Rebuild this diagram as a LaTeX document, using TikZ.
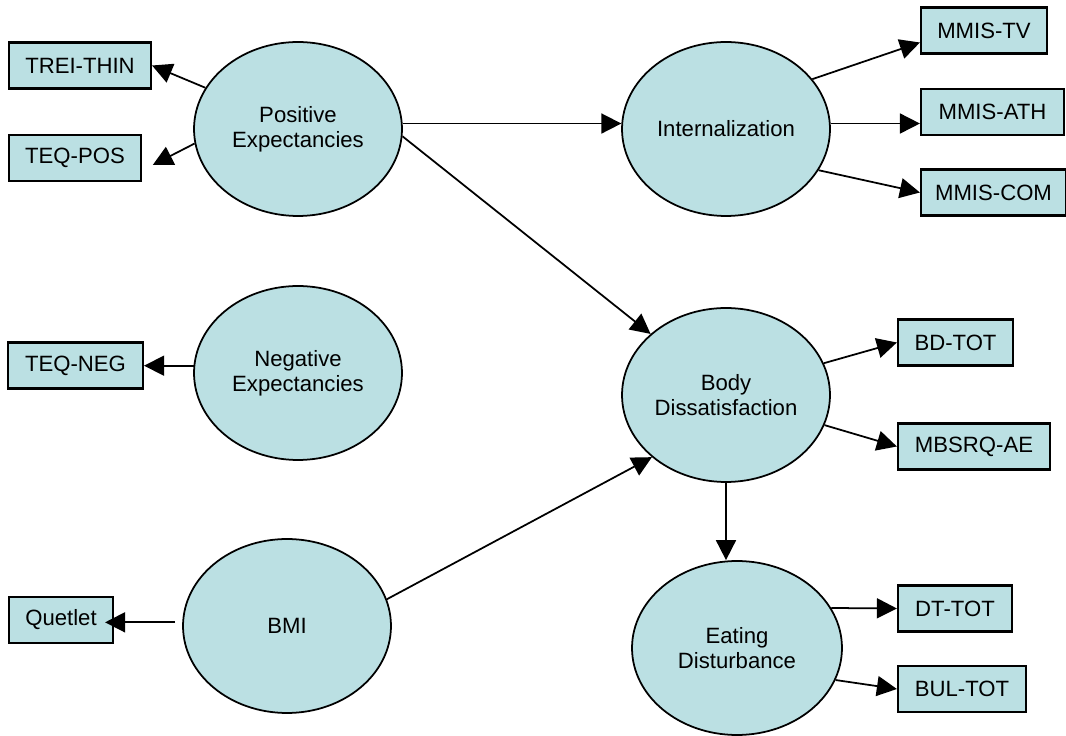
\documentclass[tikz,border=0pt]{standalone}
\usepackage{fontspec}
\setmainfont{Liberation Sans}
\usetikzlibrary{arrows.meta, shapes.geometric, positioning}

\definecolor{lightteal}{RGB}{187,224,227}

\tikzset{
	latent/.style={draw, ellipse, fill=lightteal, line width=1pt, minimum width=4.16cm, minimum height=3.48cm, align=center, inner sep=0pt},
	indicator/.style={draw, rectangle, fill=lightteal, line width=1.25pt, minimum height=0.92cm, inner sep=0pt},
	regpath/.style={-{Triangle[length=0.4cm, width=0.4cm]}, line width=1pt},
}

\begin{document}
\begin{tikzpicture}[x=0.02cm, y=-0.02cm, font=\fontsize{12.6pt}{14.2pt}\selectfont]
		\useasboundingbox (0,0) rectangle (1066,736);

		% Latent variables
		\begin{scope}
			\node (pe) at (298,129) [latent] {Positive\\Expectancies};
			\node (ne) at (298,373) [latent] {Negative\\Expectancies};
			\node (bmi) at (287,626) [latent] {BMI};
			\node (int) at (726,129) [latent] {Internalization};
			\node (bd) at (726,395) [latent] {Body\\Dissatisfaction};
			\node (ed) at (737,648) [latent, minimum width=4.2cm] {Eating\\Disturbance};
		\end{scope}

		% Indicators
		\begin{scope}
			\node (trei) at (80,65.5) [indicator, minimum width=2.84cm] {TREI-THIN};
			\node (teqpos) at (75,158) [indicator, minimum width=2.64cm] {TEQ-POS};
			\node (teqneg) at (75.5,365.5) [indicator, minimum width=2.7cm] {TEQ-NEG};
			\node (quetlet) at (61,620) [indicator, minimum width=2.08cm] {Quetlet};

			\node (mmistv) at (984,30.5) [indicator, minimum width=2.52cm] {MMIS-TV};
			\node (mmisath) at (992.5,112) [indicator, minimum width=2.86cm] {MMIS-ATH};
			\node (mmiscom) at (993.5,192.5) [indicator, minimum width=2.9cm] {MMIS-COM};

			\node (bdtot) at (955.5,342.5) [indicator, minimum width=2.3cm] {BD-TOT};
			\node (mbsrq) at (974,446.5) [indicator, minimum width=3.04cm] {MBSRQ-AE};

			\node (dttot) at (955,608.5) [indicator, minimum width=2.28cm] {DT-TOT};
			\node (bultot) at (962,689) [indicator, minimum width=2.56cm] {BUL-TOT};
		\end{scope}

		% Paths
		\begin{scope}
			\draw[regpath] (pe.156) -- (trei.east);
			\draw[regpath, shorten >=0.24cm] (pe.188) -- ([yshift=-0.25cm]teqpos.east);
			\draw[regpath] (pe.3) -- (int.177);
			\draw[regpath] (pe.356) -- (bd.141);

			\draw[regpath] (ne.176) -- (ne.176 -| teqneg.east);

			\draw[regpath, shorten <=0.14cm, shorten >=-0.18cm] (bmi.178) -- (bmi.178 -| quetlet.east);
			\draw[regpath] (bmi.15) -- (bd.220);

			\draw[regpath] (int.30) -- ([yshift=-0.24cm]mmistv.west);
			\draw[regpath] (int.3) -- (int.3 -| mmisath.west);
			\draw[regpath] (int.336) -- (mmiscom.west);

			\draw[regpath] (bd.18) -- (bdtot.west);
			\draw[regpath] (bd.343) -- (mbsrq.west);
			\draw[regpath] (bd.south) -- (bd.south |- ed.north);

			\draw[regpath] (ed.23) -- (dttot.west);
			\draw[regpath] (ed.342) -- (bultot.west);
		\end{scope}

	\end{tikzpicture}
\end{document}
